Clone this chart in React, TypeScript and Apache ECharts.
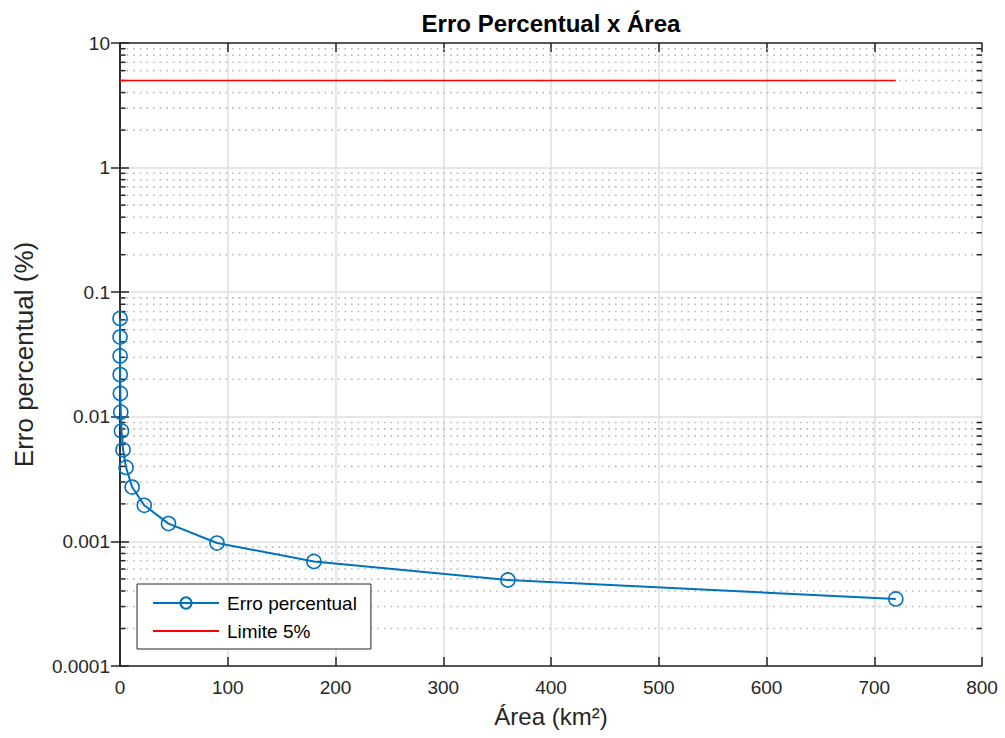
import React, { useEffect, useRef } from "react";
import * as echarts from "echarts";

// Data
const areaKm2 = [0.022, 0.044, 0.088, 0.176, 0.352, 0.703, 1.406, 2.8125, 5.625, 11.25, 22.5, 45, 90, 180, 360, 720];
const erroPercentual = [0.0616, 0.0436, 0.0308, 0.0218, 0.0154, 0.0109, 0.0077, 0.00545, 0.00392, 0.00273, 0.00195, 0.00139, 0.00097, 0.00069, 0.00049, 0.000345];
const limiteX = [0, 720];
const limiteY = [5, 5];

const yTickValues = [0.0001, 0.001, 0.01, 0.1, 1, 10];
const yTickLabels = ["0.0001", "0.001", "0.01", "0.1", "1", "10"];
const yMinorTicks = [
  0.0002, 0.0003, 0.0004, 0.0005, 0.0006, 0.0007, 0.0008, 0.0009,
  0.002, 0.003, 0.004, 0.005, 0.006, 0.007, 0.008, 0.009,
  0.02, 0.03, 0.04, 0.05, 0.06, 0.07, 0.08, 0.09,
  0.2, 0.3, 0.4, 0.5, 0.6, 0.7, 0.8, 0.9,
  2, 3, 4, 5, 6, 7, 8, 9,
];

const FONT = "'Liberation Sans', Arial, Helvetica, sans-serif";
const AXIS_COLOR = "#262626";

export default function App() {
  const ref = useRef<HTMLDivElement>(null);

  useEffect(() => {
    if (!ref.current) return;
    const chart = echarts.init(ref.current, undefined, { renderer: "svg" });

    const xAxisCommon = {
      type: "value" as const,
      min: 0,
      max: 800,
      interval: 100,
      axisLine: { show: true, lineStyle: { color: AXIS_COLOR, width: 1.5 } },
      axisTick: { show: true, inside: true, length: 9, lineStyle: { color: AXIS_COLOR, width: 1.5 } },
    };
    const yAxisCommon = {
      type: "log" as const,
      logBase: 10,
      min: 0.0001,
      max: 10,
      splitNumber: 5,
      axisLine: { show: true, lineStyle: { color: AXIS_COLOR, width: 1.5 } },
      axisTick: { show: true, inside: true, length: 9, lineStyle: { color: AXIS_COLOR, width: 1.5 } },
    };

    chart.setOption({
      animation: false,
      backgroundColor: "#ffffff",
      textStyle: { fontFamily: FONT },
      grid: { left: 120, right: 23, top: 43, bottom: 72, containLabel: false },
      graphic: [
        {
          type: "text",
          x: 551,
          y: 23,
          style: {
            text: "Erro Percentual x Área",
            fontFamily: FONT,
            fontSize: 24,
            fontWeight: "bold",
            fill: "#000000",
            textAlign: "center",
            textVerticalAlign: "middle",
          },
        },
      ],
      legend: {
        data: [
          { name: "Erro percentual" },
          { name: "Limite 5%", itemStyle: { opacity: 0 } },
        ],
        orient: "vertical",
        left: 137,
        top: 584,
        padding: [9, 14, 8, 15],
        itemWidth: 66,
        itemHeight: 14,
        itemGap: 8,
        backgroundColor: "#ffffff",
        borderColor: AXIS_COLOR,
        borderWidth: 1,
        borderRadius: 0,
        textStyle: { fontFamily: FONT, fontSize: 19, color: "#000000", lineHeight: 20, padding: [0, 0, 0, 3] },
      },
      xAxis: [
        {
          ...xAxisCommon,
          position: "bottom",
          name: "Área (km²)",
          nameLocation: "middle",
          nameGap: 38,
          nameTextStyle: { fontFamily: FONT, fontSize: 24, color: AXIS_COLOR },
          axisLabel: { show: true, margin: 12, fontFamily: FONT, fontSize: 19, color: AXIS_COLOR },
          splitLine: { show: true, lineStyle: { color: "#dfdfdf", width: 1.5 } },
        },
        {
          ...xAxisCommon,
          position: "top",
          axisLabel: { show: false },
          splitLine: { show: false },
        },
      ],
      yAxis: [
        {
          ...yAxisCommon,
          position: "left",
          name: "Erro percentual (%)",
          nameLocation: "middle",
          nameGap: 83,
          nameTextStyle: { fontFamily: FONT, fontSize: 26, color: AXIS_COLOR },
          axisLabel: {
            show: true,
            margin: 10,
            fontFamily: FONT,
            fontSize: 19,
            color: AXIS_COLOR,
            formatter: (v: number) => {
              const i = yTickValues.findIndex((t) => Math.abs(Math.log10(t) - Math.log10(v)) < 1e-6);
              return i >= 0 ? yTickLabels[i] : "";
            },
          },
          splitLine: { show: true, lineStyle: { color: "#dfdfdf", width: 1.5 } },
        },
        {
          ...yAxisCommon,
          position: "right",
          axisLabel: { show: false },
          splitLine: { show: false },
        },
      ],
      series: [
        {
          type: "custom",
          name: "minorGrid",
          silent: true,
          xAxisIndex: 0,
          yAxisIndex: 0,
          z: 1,
          data: yMinorTicks.map((v) => [0, v]),
          renderItem: (params: any, api: any) => {
            const cs = params.coordSys;
            const y = api.coord([0, api.value(1)])[1];
            const left = cs.x;
            const right = cs.x + cs.width;
            return {
              type: "group",
              children: [
                {
                  type: "line",
                  shape: { x1: left, y1: y, x2: right, y2: y },
                  style: { stroke: "#b8b8b8", lineWidth: 1.6, lineDash: [1.6, 5] },
                },
                {
                  type: "line",
                  shape: { x1: left, y1: y, x2: left + 5.5, y2: y },
                  style: { stroke: AXIS_COLOR, lineWidth: 1.5 },
                },
                {
                  type: "line",
                  shape: { x1: right - 5.5, y1: y, x2: right, y2: y },
                  style: { stroke: AXIS_COLOR, lineWidth: 1.5 },
                },
              ],
            };
          },
        },
        {
          type: "line",
          name: "Erro percentual",
          xAxisIndex: 0,
          yAxisIndex: 0,
          z: 3,
          data: areaKm2.map((x, i) => [x, erroPercentual[i]]),
          symbol: "circle",
          symbolSize: 14,
          showAllSymbol: true,
          lineStyle: { color: "#0072BD", width: 2 },
          itemStyle: { color: "rgba(255,255,255,0)", borderColor: "#0072BD", borderWidth: 1.6 },
        },
        {
          type: "line",
          name: "Limite 5%",
          xAxisIndex: 0,
          yAxisIndex: 0,
          z: 2,
          data: limiteX.map((x, i) => [x, limiteY[i]]),
          symbol: "none",
          lineStyle: { color: "#ff0000", width: 1.5 },
          itemStyle: { color: "#ff0000" },
        },
      ],
    });

    return () => chart.dispose();
  }, []);

  return (
    <div
      ref={ref}
      style={{ position: "fixed", left: 0, top: 0, width: 1005, height: 738, background: "#ffffff" }}
    />
  );
}
